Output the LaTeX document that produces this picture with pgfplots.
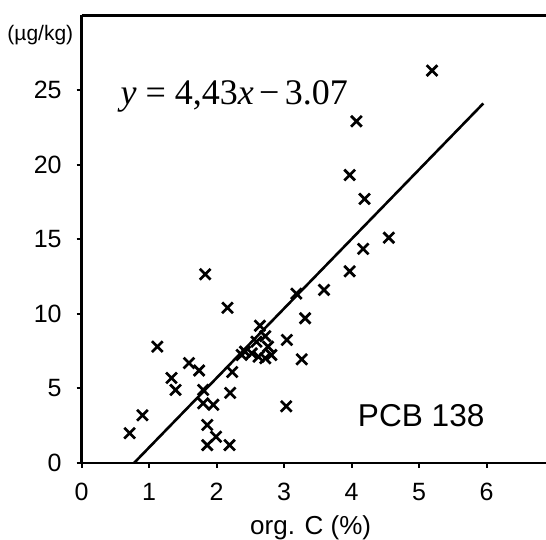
\documentclass[border=0pt]{standalone}
\usepackage{fontspec}
\setmainfont{Liberation Sans}
\newfontfamily\timesf{Liberation Serif}
\usepackage{pgfplots}
\pgfplotsset{compat=1.18}

\begin{document}
\begin{tikzpicture}
\begin{axis}[
	name=ax,
	x=33.75pt, y=7.46pt,
	xmin=0, xmax=6.88,
	ymin=0, ymax=30,
	axis x line=box, axis y line=left,
	axis line style={-, line width=1.4pt},
	tick pos=left,
	tick align=outside,
	major tick length=2.5pt,
	tick style={line width=1pt, black},
	xtick={0,1,...,6},
	ytick={0,5,...,25},
	/pgf/number format/assume math mode=true,
	tick label style={font=\fontsize{12.5}{14}\selectfont},
	yticklabel style={xshift=-4pt},
	xticklabel style={yshift=-4pt},
	xlabel={org. C (\%)},
	xlabel style={font=\fontsize{13}{15}\selectfont, at={(axis description cs:0.493,0)}, anchor=north, yshift=-23pt},
	clip=false,
]
% measured points
\addplot[only marks, mark=x, mark size=3.8pt, line width=1.35pt] coordinates {
	(0.71,2.0) (0.90,3.2) (1.12,7.8) (1.33,5.7) (1.39,4.9)
	(1.59,6.7) (1.74,6.2) (1.83,12.65) (1.80,4.9) (1.80,4.0)
	(1.95,3.9) (1.86,2.55) (1.99,1.76) (1.86,1.2) (2.19,1.2)
	(2.20,4.7) (2.23,6.1) (2.16,10.4) (2.37,7.24) (2.42,7.46)
	(2.52,7.35) (2.59,8.13) (2.62,7.12) (2.64,9.2) (2.72,8.5)
	(2.72,7.02) (2.76,7.8) (2.81,7.24) (3.03,3.8) (3.04,8.25)
	(3.18,11.35) (3.26,6.95) (3.31,9.7) (3.59,11.6) (3.97,12.85)
	(3.97,19.3) (4.07,22.9) (4.17,14.35) (4.19,17.7) (4.55,15.1)
	(5.19,26.3)
};
% regression line
\addplot[no marks, line width=1.3pt] coordinates {(0.775,0) (5.95,24.1)};
\node[anchor=base, inner sep=0pt] at (axis cs:2.26,24.0)
	{\timesf\fontsize{18}{20}\selectfont\itshape y\upshape\hspace{0.25em}=\hspace{0.25em}4,43\itshape x\upshape\hspace{0.15em}−\hspace{0.15em}3.07};
\node[inner sep=0pt, font=\fontsize{15.8}{18}\selectfont] at (axis cs:5.03,3.18) {PCB 138};
\node[anchor=east, inner sep=0pt, font=\fontsize{10.5}{12}\selectfont] at (axis cs:-0.12,28.7) {(µg/kg)};
\end{axis}
\pgfresetboundingbox
\path[use as bounding box] (ax.south west) ++(-40.85pt,-38.5pt) rectangle ++(273pt,270pt);
\end{tikzpicture}
\end{document}
